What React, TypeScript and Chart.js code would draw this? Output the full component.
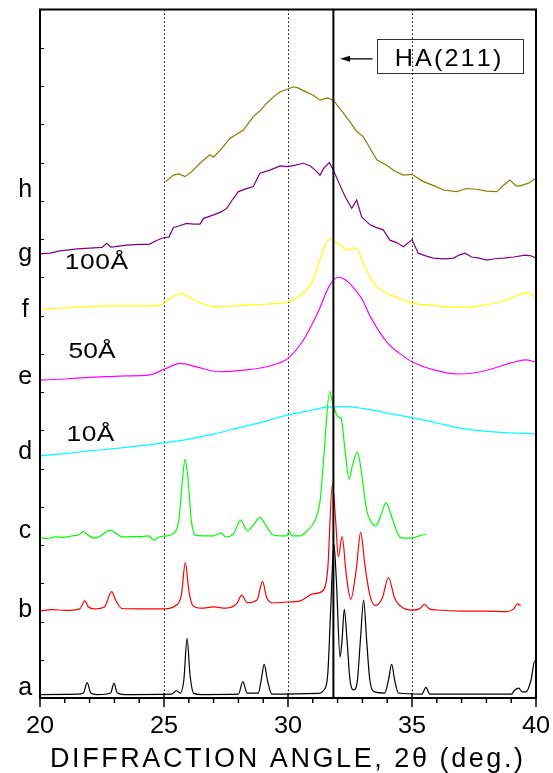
import React, { useEffect, useRef } from "react";
import { Chart, registerables } from "chart.js";

Chart.register(...registerables);

// ---- data (2θ in degrees, offset intensity in arbitrary units) ----
const aX = [20.0, 21.5, 21.75, 21.9, 22.05, 22.3, 22.85, 22.98, 23.12, 23.4, 25.3, 25.5, 25.65, 25.8, 25.93, 26.05, 26.2, 26.5, 28.0, 28.18, 28.35, 28.8, 28.92, 29.04, 29.17, 29.35, 31.2, 31.45, 31.6, 31.72, 31.85, 31.95, 32.1, 32.18, 32.27, 32.38, 32.5, 32.66, 32.8, 32.92, 33.05, 33.17, 33.3, 33.5, 33.9, 34.05, 34.18, 34.3, 34.45, 35.4, 35.56, 35.72, 39.0, 39.15, 39.3, 39.45, 39.6, 39.8, 39.95, 40.0];
const aY = [0.09, 0.10, 0.13, 0.40, 0.13, 0.09, 0.13, 0.38, 0.13, 0.09, 0.10, 0.19, 0.13, 0.47, 1.56, 0.60, 0.12, 0.09, 0.10, 0.43, 0.13, 0.13, 0.47, 0.88, 0.47, 0.10, 0.12, 0.21, 0.60, 2.30, 4.03, 3.08, 1.07, 1.52, 2.32, 1.52, 0.47, 0.21, 0.47, 1.52, 2.56, 1.52, 0.47, 0.16, 0.13, 0.47, 0.88, 0.47, 0.13, 0.10, 0.28, 0.10, 0.10, 0.21, 0.26, 0.16, 0.16, 0.47, 0.97, 0.94];

const bX = [20.0, 20.5, 21.0, 21.6, 21.81, 21.95, 22.2, 22.6, 22.89, 23.05, 23.3, 24.0, 25.0, 25.5, 25.7, 25.86, 26.0, 26.15, 26.5, 27.0, 27.5, 27.95, 28.13, 28.36, 28.75, 28.97, 29.15, 29.4, 30.0, 30.5, 31.0, 31.42, 31.6, 31.79, 31.92, 32.03, 32.18, 32.35, 32.53, 32.75, 32.93, 33.1, 33.3, 33.51, 33.8, 34.05, 34.3, 34.65, 35.0, 35.3, 35.5, 35.7, 36.0, 37.0, 38.0, 38.8, 39.1, 39.25, 39.38];
const bY = [2.28, 2.31, 2.29, 2.33, 2.54, 2.38, 2.33, 2.38, 2.78, 2.56, 2.34, 2.33, 2.33, 2.43, 2.69, 3.54, 2.82, 2.43, 2.35, 2.38, 2.35, 2.48, 2.69, 2.49, 2.56, 3.04, 2.61, 2.49, 2.51, 2.54, 2.72, 2.81, 3.35, 5.59, 4.65, 3.69, 4.22, 3.22, 2.58, 3.35, 4.33, 3.48, 2.69, 2.42, 2.61, 3.15, 2.61, 2.35, 2.30, 2.33, 2.45, 2.33, 2.30, 2.27, 2.27, 2.26, 2.33, 2.46, 2.41];

const cX = [20.0, 20.3, 20.6, 21.0, 21.3, 21.55, 21.75, 21.95, 22.2, 22.5, 22.82, 23.05, 23.3, 23.7, 24.1, 24.4, 24.57, 24.8, 25.1, 25.4, 25.6, 25.75, 25.85, 25.97, 26.1, 26.25, 26.6, 27.0, 27.3, 27.5, 27.8, 28.09, 28.36, 28.6, 28.87, 29.1, 29.4, 29.68, 29.95, 30.05, 30.15, 30.5, 30.75, 31.09, 31.3, 31.45, 31.68, 31.83, 31.95, 32.03, 32.14, 32.3, 32.46, 32.6, 32.8, 32.95, 33.17, 33.35, 33.53, 33.75, 33.95, 34.18, 34.45, 34.65, 35.0, 35.3, 35.55];
const cY = [4.20, 4.17, 4.21, 4.20, 4.24, 4.26, 4.35, 4.25, 4.18, 4.26, 4.39, 4.31, 4.21, 4.22, 4.22, 4.24, 4.13, 4.21, 4.24, 4.31, 4.65, 5.75, 6.24, 5.70, 4.65, 4.26, 4.24, 4.24, 4.31, 4.21, 4.29, 4.65, 4.37, 4.52, 4.72, 4.52, 4.26, 4.24, 4.24, 4.37, 4.24, 4.24, 4.36, 4.65, 5.18, 6.35, 8.01, 7.62, 7.42, 7.35, 7.31, 6.48, 5.72, 6.09, 6.43, 5.96, 4.92, 4.60, 4.50, 4.78, 5.11, 4.74, 4.26, 4.18, 4.18, 4.24, 4.28];

const dX = [20, 21, 22, 23, 24, 25, 26, 27, 28, 29, 30, 31, 31.5, 32.3, 33, 34, 35, 36, 37, 38, 39, 40];
const dY = [6.33, 6.39, 6.46, 6.52, 6.59, 6.67, 6.77, 6.90, 7.06, 7.22, 7.40, 7.53, 7.60, 7.62, 7.57, 7.45, 7.33, 7.19, 7.05, 6.97, 6.93, 6.90];

const eX = [20, 21, 22, 22.65, 23.5, 24.36, 25, 25.65, 26.35, 27.2, 28.34, 29.0, 29.62, 30, 30.62, 31.19, 31.69, 32.04, 32.3, 32.61, 33.0, 33.32, 34.03, 34.5, 35, 35.88, 36.88, 37.6, 38.3, 39.0, 39.58, 40];
const eY = [8.31, 8.34, 8.38, 8.40, 8.42, 8.44, 8.59, 8.75, 8.65, 8.53, 8.58, 8.64, 8.75, 8.88, 9.36, 10.06, 10.80, 11.00, 10.94, 10.75, 10.41, 9.97, 9.27, 9.01, 8.79, 8.58, 8.47, 8.51, 8.62, 8.76, 8.84, 8.78];

const fX = [20, 21.5, 22.65, 24.64, 25, 25.3, 25.71, 26.0, 26.35, 27.06, 28.34, 29.2, 30, 30.62, 30.9, 31.12, 31.3, 31.47, 31.72, 31.9, 32.11, 32.4, 32.68, 32.85, 33.04, 33.3, 33.6, 34.31, 35, 36, 36.88, 37.8, 38.58, 39.2, 39.65, 40];
const fY = [10.17, 10.21, 10.25, 10.25, 10.32, 10.46, 10.58, 10.48, 10.36, 10.23, 10.27, 10.30, 10.36, 10.58, 10.80, 11.10, 11.50, 11.80, 12.00, 11.92, 11.84, 11.71, 11.77, 11.66, 11.36, 11.01, 10.75, 10.49, 10.33, 10.25, 10.21, 10.26, 10.36, 10.51, 10.60, 10.47];

const gX = [20.0, 20.4, 20.8, 21.08, 21.5, 22.0, 22.5, 22.69, 22.85, 23.02, 23.5, 24.03, 24.4, 24.7, 25.0, 25.2, 25.38, 25.6, 25.91, 26.2, 26.45, 26.6, 27.0, 27.3, 27.53, 27.75, 28.0, 28.3, 28.6, 28.87, 29.27, 29.68, 30.01, 30.3, 30.62, 30.9, 31.1, 31.29, 31.45, 31.67, 31.83, 32.03, 32.3, 32.57, 32.77, 32.97, 33.31, 33.6, 33.84, 34.11, 34.4, 34.65, 34.85, 35.0, 35.25, 35.55, 35.86, 36.3, 36.67, 36.9, 37.14, 37.4, 37.7, 38.01, 38.4, 38.7, 39.1, 39.56, 39.8, 40.0];
const gY = [11.61, 11.63, 11.69, 11.71, 11.74, 11.76, 11.78, 11.89, 11.79, 11.80, 11.84, 11.86, 11.86, 11.96, 12.04, 12.05, 12.30, 12.34, 12.41, 12.39, 12.39, 12.54, 12.63, 12.71, 12.80, 13.02, 13.24, 13.31, 13.37, 13.72, 13.80, 13.91, 13.89, 13.93, 13.98, 13.91, 13.80, 13.67, 13.86, 14.00, 13.80, 13.50, 13.11, 12.80, 13.02, 12.58, 12.37, 12.29, 12.24, 11.97, 11.90, 11.80, 11.90, 11.99, 11.63, 11.56, 11.50, 11.48, 11.50, 11.58, 11.63, 11.53, 11.50, 11.45, 11.49, 11.50, 11.53, 11.58, 11.56, 11.50];

const hX = [25.07, 25.38, 25.6, 25.85, 26.1, 26.45, 26.85, 27.0, 27.3, 27.66, 28.2, 28.6, 28.9, 29.14, 29.4, 29.68, 30.0, 30.21, 30.4, 30.62, 31.02, 31.29, 31.6, 31.83, 32.23, 32.5, 32.77, 33.04, 33.3, 33.58, 33.98, 34.3, 34.65, 35.0, 35.46, 35.9, 36.27, 36.8, 37.2, 37.6, 38.0, 38.42, 38.7, 38.95, 39.2, 39.35, 39.7, 40.0];
const hY = [13.50, 13.67, 13.70, 13.63, 13.75, 13.98, 14.20, 14.14, 14.35, 14.63, 14.85, 15.20, 15.37, 15.55, 15.71, 15.85, 15.92, 15.98, 15.95, 15.88, 15.76, 15.63, 15.69, 15.63, 15.29, 15.06, 14.81, 14.67, 14.38, 14.07, 13.93, 13.78, 13.67, 13.69, 13.50, 13.39, 13.28, 13.24, 13.32, 13.30, 13.25, 13.24, 13.41, 13.54, 13.39, 13.39, 13.46, 13.59];

const sampleLetters = ["a", "b", "c", "d", "e", "f", "g", "h"];
const letterLevels = [0.08, 2.11, 4.19, 6.24, 8.21, 9.95, 11.42, 13.1];
const sizeLabels = ["100Å", "50Å", "10Å"];
const sizeLabelLevels = [11.21, 8.88, 6.72];
const xTickValues = [20, 25, 30, 35, 40];
const xTickLabels = ["20", "25", "30", "35", "40"];
const gridAngles = [25, 30, 35];
const HA211 = 31.83;
const peakLabel = "HA(211)";
const axisTitle = "DIFFRACTION ANGLE, 2θ (deg.)";

const X_MIN = 20, X_MAX = 40, Y_MIN = 0, Y_MAX = 18;

// ---- styles / layout ----
const seriesStyle = [
  { xs: aX, ys: aY, color: "#000000", smooth: true },
  { xs: bX, ys: bY, color: "#ff0000", smooth: true },
  { xs: cX, ys: cY, color: "#00ff00", smooth: true },
  { xs: dX, ys: dY, color: "#00ffff", smooth: true },
  { xs: eX, ys: eY, color: "#ff00ff", smooth: true },
  { xs: fX, ys: fY, color: "#ffff00", smooth: true },
  { xs: gX, ys: gY, color: "#800080", smooth: false },
  { xs: hX, ys: hY, color: "#808000", smooth: false },
];

const SANS = '"Liberation Sans", Arial, Helvetica, sans-serif';

function drawSpaced(ctx: CanvasRenderingContext2D, text: string, left: number, right: number, baseline: number, xScale = 1) {
  const chars = Array.from(text);
  const widths = chars.map((c) => ctx.measureText(c).width * xScale);
  const total = widths.reduce((s, w) => s + w, 0);
  const gap = chars.length > 1 ? (right - left - total) / (chars.length - 1) : 0;
  ctx.textAlign = "left";
  ctx.textBaseline = "alphabetic";
  let cx = left;
  chars.forEach((c, i) => {
    ctx.save();
    ctx.translate(cx, baseline);
    ctx.scale(xScale, 1);
    ctx.fillText(c, 0, 0);
    ctx.restore();
    cx += widths[i] + gap;
  });
}

function drawCentered(ctx: CanvasRenderingContext2D, text: string, cx: number, baseline: number, xScale = 1) {
  ctx.save();
  ctx.translate(cx, baseline);
  ctx.scale(xScale, 1);
  ctx.textAlign = "center";
  ctx.textBaseline = "alphabetic";
  ctx.fillText(text, 0, 0);
  ctx.restore();
}

function seg(ctx: CanvasRenderingContext2D, x1: number, y1: number, x2: number, y2: number) {
  ctx.beginPath();
  ctx.moveTo(x1, y1);
  ctx.lineTo(x2, y2);
  ctx.stroke();
}

const decor = {
  id: "decor",
  beforeDatasetsDraw(chart: any) {
    const { ctx, chartArea: ca, scales } = chart;
    const sx = scales.x;
    ctx.save();
    ctx.strokeStyle = "#000";
    ctx.lineWidth = 1;
    ctx.setLineDash([1.5, 2.5]);
    gridAngles.forEach((g) => {
      const px = Math.round(sx.getPixelForValue(g)) + 0.5;
      seg(ctx, px, ca.top, px, ca.bottom);
    });
    ctx.restore();
  },
  afterDatasetsDraw(chart: any) {
    const { ctx, chartArea: ca, scales } = chart;
    const sx = scales.x;
    const sy = scales.y;
    ctx.save();
    ctx.strokeStyle = "#000";
    ctx.fillStyle = "#000";

    // HA(211) reference line
    ctx.lineWidth = 2;
    const hx = sx.getPixelForValue(HA211);
    seg(ctx, hx, ca.top, hx, ca.bottom);

    // frame
    ctx.lineWidth = 2;
    ctx.strokeRect(ca.left, ca.top, ca.right - ca.left, ca.bottom - ca.top);

    // left inner ticks
    ctx.lineWidth = 1;
    for (let v = Y_MIN + 1; v < Y_MAX; v++) {
      const py = Math.round(sy.getPixelForValue(v)) + 0.5;
      seg(ctx, ca.left, py, ca.left + 4, py);
    }

    // bottom ticks
    ctx.lineWidth = 1.5;
    for (let v = X_MIN; v <= X_MAX; v++) {
      const px = sx.getPixelForValue(v);
      if (v % 5 === 0) seg(ctx, px, ca.bottom - 5, px, ca.bottom + 9);
      else seg(ctx, px, ca.bottom, px, ca.bottom + 5);
    }

    // tick labels
    ctx.font = "23px " + SANS;
    xTickValues.forEach((v, i) => {
      drawCentered(ctx, xTickLabels[i], sx.getPixelForValue(v), ca.bottom + 35, 1.1);
    });

    // axis title
    ctx.font = "27px " + SANS;
    drawSpaced(ctx, axisTitle, ca.left + 10, ca.right - 13, ca.bottom + 69);

    // sample letters
    ctx.font = "25px " + SANS;
    sampleLetters.forEach((l, i) => {
      drawCentered(ctx, l, sx.getPixelForValue(19.4), sy.getPixelForValue(letterLevels[i]));
    });

    // crystallite size labels
    ctx.font = "22px " + SANS;
    const sizeSpans = [[21.0, 23.55], [21.15, 23.05], [21.07, 23.0]];
    sizeLabels.forEach((t, i) => {
      drawSpaced(ctx, t, sx.getPixelForValue(sizeSpans[i][0]), sx.getPixelForValue(sizeSpans[i][1]), sy.getPixelForValue(sizeLabelLevels[i]), 1.2);
    });

    // annotation box
    ctx.lineWidth = 1;
    ctx.strokeStyle = "#333";
    const bx0 = sx.getPixelForValue(33.58), bx1 = sx.getPixelForValue(39.45);
    const by0 = sy.getPixelForValue(17.23), by1 = sy.getPixelForValue(16.35);
    ctx.strokeRect(Math.round(bx0) + 0.5, Math.round(by0) + 0.5, Math.round(bx1 - bx0), Math.round(by1 - by0));
    ctx.font = "24px " + SANS;
    drawSpaced(ctx, peakLabel, sx.getPixelForValue(34.3), sx.getPixelForValue(38.6), sy.getPixelForValue(16.51), 1.05);

    // arrow
    ctx.strokeStyle = "#000";
    ctx.lineWidth = 1.3;
    const ay = sy.getPixelForValue(16.71);
    const ax0 = sx.getPixelForValue(33.41), ax1 = sx.getPixelForValue(32.1);
    seg(ctx, ax0, ay, ax1 + 6, ay);
    ctx.beginPath();
    ctx.moveTo(ax1, ay);
    ctx.lineTo(ax1 + 10, ay - 3);
    ctx.lineTo(ax1 + 10, ay + 3);
    ctx.closePath();
    ctx.fill();

    ctx.restore();
  },
};

export default function App() {
  const ref = useRef<HTMLCanvasElement | null>(null);
  useEffect(() => {
    if (!ref.current) return;
    const datasets = seriesStyle.map((s) => ({
      data: s.xs.map((x, i) => ({ x, y: s.ys[i] })),
      borderColor: s.color,
      backgroundColor: s.color,
      borderWidth: 1.2,
      pointRadius: 0,
      fill: false,
      tension: 0,
      cubicInterpolationMode: s.smooth ? ("monotone" as const) : ("default" as const),
    }));
    const chart = new Chart(ref.current, {
      type: "line",
      data: { datasets },
      options: {
        animation: false,
        responsive: false,
        events: [],
        layout: { padding: { left: 40, right: 17, top: 9.5, bottom: 75 } },
        scales: {
          x: { type: "linear", min: X_MIN, max: X_MAX, display: false },
          y: { type: "linear", min: Y_MIN, max: Y_MAX, display: false },
        },
        plugins: { legend: { display: false }, tooltip: { enabled: false } },
      },
      plugins: [decor],
    });
    return () => chart.destroy();
  }, []);
  return (
    <div style={{ position: "absolute", left: 0, top: 0, width: 553, height: 773, background: "#fff" }}>
      <canvas ref={ref} width={553} height={773} style={{ display: "block", width: 553, height: 773 }} />
    </div>
  );
}
